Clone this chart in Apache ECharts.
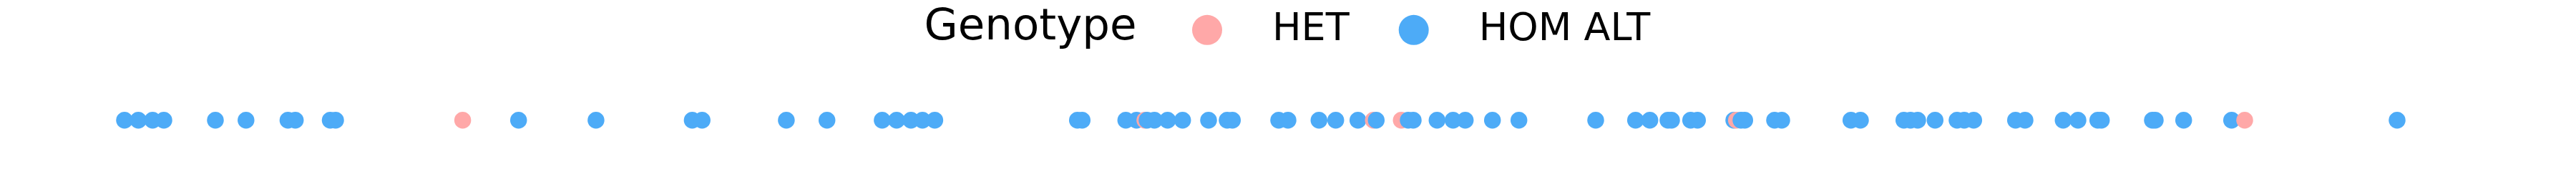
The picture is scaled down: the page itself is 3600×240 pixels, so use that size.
<!DOCTYPE html>
<html>
<head>
<meta charset="utf-8">
<script src="https://cdn.jsdelivr.net/npm/echarts@6/dist/echarts.min.js"></script>
<style>
html,body{margin:0;padding:0;background:#fff;}
#chart{width:3600px;height:240px;}
</style>
</head>
<body>
<div id="chart"></div>
<script>
// Genotype categories and colours
const genotypes = ['HET', 'HOM ALT'];
const genotypeColors = ['#ffa8a8', '#4dabf7'];

// Variant positions, per genotype
const hetPositions = [646.6, 1600, 1919.3, 1958.3, 2426.7, 3137];
const homAltPositions = [
  174, 193.3, 213.3, 229, 301, 343.8, 402.4, 412.7, 461.5, 469, 724.7, 832.9,
  967.4, 981.2, 1098.9, 1155.7, 1232.9, 1253, 1273.1, 1289.2, 1306.4,
  1505.7, 1512.3, 1573.3, 1588.3, 1603, 1613.3, 1631.7, 1652.7, 1689, 1715, 1722.3, 1787, 1800,
  1843.3, 1866.7, 1897.7, 1923.3, 1968, 1975, 2008.3, 2030.7, 2047.7, 2085.7, 2122.7,
  2230, 2285.7, 2305.7, 2331, 2336, 2362.7, 2372.3, 2423, 2433, 2438.3, 2480, 2490, 2586.7, 2600,
  2660.7, 2670, 2680, 2704.3, 2735, 2745, 2758.3, 2816.7, 2830, 2883.3, 2904, 2931.7, 2936.7,
  3008, 3012, 3051.7, 3118.7, 3350
];

// Build draw-order series: points drawn left-to-right, runs of same genotype grouped
const allPts = [];
hetPositions.forEach(p => allPts.push({ x: p, g: 0 }));
homAltPositions.forEach(p => allPts.push({ x: p, g: 1 }));
allPts.sort((a, b) => a.x - b.x);
const series = [];
let cur = null;
allPts.forEach(pt => {
  if (!cur || cur.g !== pt.g) {
    cur = { g: pt.g, data: [] };
    series.push(cur);
  }
  cur.data.push([pt.x, 0.5]);
});
const echSeries = series.map(s => ({
  type: 'scatter',
  name: genotypes[s.g],
  data: s.data,
  symbol: 'circle',
  symbolSize: 23.5,
  itemStyle: { color: genotypeColors[s.g], opacity: 1 },
  emphasis: { disabled: true },
  silent: true,
  animation: false
}));

const chart = echarts.init(document.getElementById('chart'), null, { renderer: 'canvas' });
chart.setOption({
  backgroundColor: '#ffffff',
  animation: false,
  title: {
    text: 'Genotype',
    left: 1291.5,
    top: 9,
    padding: 0,
    textStyle: { fontFamily: 'DejaVu Sans', fontSize: 61, fontWeight: 'normal', color: '#000' }
  },
  legend: {
    data: genotypes,
    left: 1666,
    top: 14.8,
    padding: 0,
    icon: 'circle',
    itemWidth: 42,
    itemHeight: 42,
    itemGap: 69,
    selectedMode: false,
    textStyle: {
      fontFamily: 'DejaVu Sans',
      fontSize: 54,
      color: '#000',
      lineHeight: 42,
      padding: [0, 0, 0, 65]
    }
  },
  grid: { left: 0, right: 0, top: 147.7, height: 40 },
  xAxis: { type: 'value', min: 0, max: 3600, show: false },
  yAxis: { type: 'value', min: 0, max: 1, show: false },
  series: echSeries
});
</script>
</body>
</html>
